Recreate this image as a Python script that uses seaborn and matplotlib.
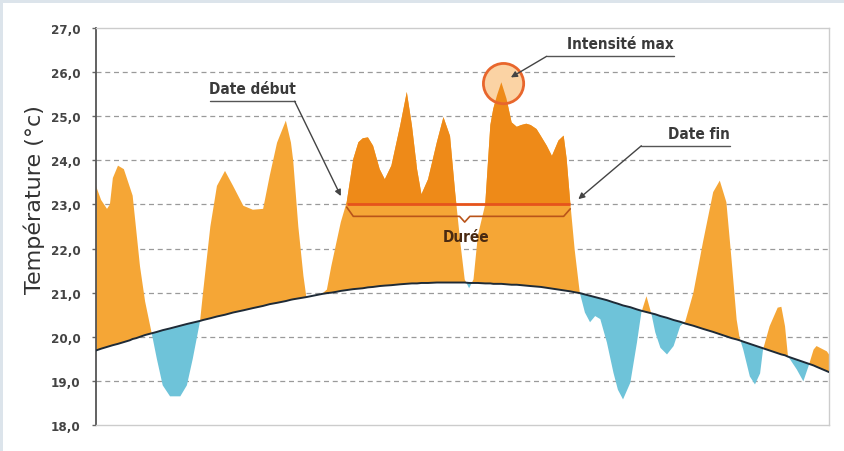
import numpy as np
import pandas as pd
import matplotlib
matplotlib.use("Agg")
import matplotlib.pyplot as plt
import seaborn as sns
from matplotlib.patches import Rectangle

# jours (0 a 100)
jours = [0.0, 0.7, 1.5, 1.9, 2.3, 3.0, 3.8, 4.6, 5.0, 5.5, 6.0, 6.7, 7.6, 8.3, 9.1,
         10.1, 11.5, 12.4, 13.2, 14.2, 14.6, 15.6, 16.5, 17.6, 18.7, 20.1, 21.4, 22.8,
         23.7, 24.7, 25.9, 26.6, 26.9, 27.6, 28.3, 28.7, 29.9, 30.8, 31.5, 32.1, 32.8,
         33.4, 34.2, 35.1, 35.8, 36.4, 37.1, 37.8, 38.7, 39.4, 40.3, 41.5, 42.4, 43.1,
         43.8, 44.4, 45.3, 46.5, 47.4, 48.3, 49.0, 49.7, 50.3, 50.9, 51.5, 52.1, 53.1,
         53.8, 54.2, 54.7, 55.3, 56.0, 56.7, 57.4, 58.0, 58.7, 59.3, 60.1, 60.7, 61.5,
         62.2, 63.1, 63.8, 64.2, 64.7, 65.3, 66.0, 66.7, 67.4, 68.1, 68.8, 69.7, 70.6,
         71.2, 71.9, 72.9, 73.8, 74.4, 75.1, 75.8, 76.3, 77.0, 77.9, 78.8, 79.7, 80.4,
         81.5, 82.8, 84.2, 85.1, 86.0, 86.7, 87.4, 87.8, 88.3, 89.2, 89.9, 90.6, 91.0,
         91.9, 93.0, 93.5, 94.0, 94.4, 95.6, 96.5, 97.2, 97.9, 98.3, 99.7, 100.0]

# temperature observee (°C)
temperature = [23.42, 23.1, 22.9, 23.0, 23.6, 23.88, 23.8, 23.4, 23.2, 22.4, 21.6, 20.8, 20.08,
               19.5, 18.9, 18.65, 18.65, 18.9, 19.5, 20.36, 21.0, 22.5, 23.42, 23.76, 23.42,
               22.97, 22.88, 22.9, 23.65, 24.4, 24.9, 24.4, 24.0, 22.5, 21.38, 20.9, 20.94,
               20.97, 21.07, 21.6, 22.14, 22.6, 23.05, 24.03, 24.41, 24.5, 24.52, 24.33, 23.8,
               23.57, 23.88, 24.79, 25.55, 24.79, 23.8, 23.23, 23.57, 24.41, 24.98, 24.55,
               23.27, 22.14, 21.3, 21.1, 21.3, 22.3, 23.0, 24.8, 25.17, 25.47, 25.77, 25.4,
               24.86, 24.76, 24.8, 24.83, 24.8, 24.71, 24.55, 24.33, 24.1, 24.45, 24.56, 24.05,
               23.05, 21.98, 21.0, 20.55, 20.33, 20.47, 20.4, 19.87, 19.18, 18.8, 18.58, 18.96,
               19.87, 20.55, 20.92, 20.5, 20.1, 19.75, 19.6, 19.79, 20.24, 20.35, 21.0, 22.14,
               23.28, 23.54, 23.05, 21.76, 20.39, 19.98, 19.71, 19.1, 18.92, 19.17, 19.71,
               20.24, 20.66, 20.68, 20.24, 19.56, 19.26, 18.99, 19.33, 19.71, 19.79, 19.67,
               19.6]

# temperature de reference (courbe noire)
normale = [19.69, 19.73, 19.77, 19.79, 19.81, 19.84, 19.88, 19.92, 19.95, 19.97, 20.0, 20.04,
           20.08, 20.11, 20.15, 20.19, 20.25, 20.29, 20.32, 20.36, 20.38, 20.42, 20.46, 20.5,
           20.55, 20.6, 20.65, 20.7, 20.74, 20.77, 20.81, 20.84, 20.85, 20.87, 20.89, 20.9,
           20.94, 20.97, 20.99, 21.0, 21.02, 21.04, 21.06, 21.08, 21.09, 21.1, 21.12, 21.13,
           21.15, 21.16, 21.17, 21.19, 21.2, 21.21, 21.21, 21.22, 21.22, 21.23, 21.23, 21.23,
           21.23, 21.23, 21.23, 21.22, 21.22, 21.22, 21.21, 21.21, 21.2, 21.2, 21.2, 21.19,
           21.18, 21.18, 21.17, 21.16, 21.15, 21.14, 21.13, 21.11, 21.09, 21.07, 21.05, 21.04,
           21.03, 21.01, 20.99, 20.96, 20.93, 20.9, 20.87, 20.83, 20.78, 20.75, 20.71, 20.67,
           20.62, 20.59, 20.56, 20.53, 20.51, 20.47, 20.43, 20.38, 20.34, 20.3, 20.25, 20.18,
           20.11, 20.06, 20.01, 19.97, 19.94, 19.92, 19.89, 19.84, 19.8, 19.76, 19.74, 19.69,
           19.63, 19.6, 19.58, 19.55, 19.48, 19.43, 19.39, 19.35, 19.32, 19.22, 19.2]

seuil = 23.0
date_debut = 34.2
date_fin = 64.7
y_ticks = [18, 19, 20, 21, 22, 23, 24, 25, 26, 27]

df = pd.DataFrame({"jour": jours, "temperature": temperature, "normale": normale})
x = df["jour"].to_numpy()
t = df["temperature"].to_numpy()
n = df["normale"].to_numpy()

sns.set_theme(style="white")
plt.rcParams["font.family"] = ["Liberation Sans Narrow", "DejaVu Sans"]
plt.rcParams["font.stretch"] = "condensed"

orange_clair = "#f5a636"
orange_fonce = "#ee8a18"
rouge = "#e6531c"
bleu = "#6ec3d9"
texte = "#3a3a3a"

fig = plt.figure(figsize=(8.44, 4.52), dpi=100, facecolor="#dce4eb")
fond = Rectangle((3 / 844, 0), 1, 1 - 4 / 452, transform=fig.transFigure,
                 facecolor="white", edgecolor="none", zorder=-10)
fig.patches.append(fond)
ax = fig.add_axes([96 / 844, 26 / 452, 733 / 844, 397 / 452])
ax.set_zorder(1)
ax.set_facecolor("white")

# grille pointillee
for v in y_ticks[1:-1]:
    ax.axhline(v, color="#9a9a9a", lw=0.9, ls=(0, (4, 3)), zorder=1)

# cercle intensite max (fond clair sous le pic)
i_max = int(np.argmax(t))
ax.scatter([x[i_max] + 0.3], [t[i_max] - 0.03], s=840, facecolor="#fbd3a4",
           edgecolor="none", zorder=2.5)

# remplissages
ax.fill_between(x, n, t, where=t >= n, interpolate=True, color=orange_clair, lw=0, zorder=2)
ax.fill_between(x, n, t, where=t < n, interpolate=True, color=bleu, lw=0, zorder=2)
periode = (x >= date_debut) & (x <= date_fin)
ax.fill_between(x, seuil, t, where=(t > seuil) & periode, interpolate=True,
                color=orange_fonce, lw=0, zorder=3)

# courbe de reference
sns.lineplot(data=df, x="jour", y="normale", color="#1e2a36", lw=1.4, ax=ax, zorder=4)

# seuil et accolade
ax.plot([date_debut, date_fin], [seuil, seuil], color=rouge, lw=2, zorder=5,
        solid_capstyle="butt")
milieu = 50.3
ax.plot([date_debut, date_debut + 0.9, milieu - 0.7, milieu, milieu + 0.7, date_fin - 0.9, date_fin],
        [seuil - 0.06, seuil - 0.27, seuil - 0.27, seuil - 0.4, seuil - 0.27, seuil - 0.27, seuil - 0.1],
        color="#b9541a", lw=1.2, zorder=5)
ax.text(milieu + 0.2, 22.28, "Durée", ha="center", va="center", fontsize=11,
        fontweight="bold", color="#4a2a12", zorder=6)

# contour du cercle
ax.scatter([x[i_max] + 0.3], [t[i_max] - 0.03], s=840, facecolor="none",
           edgecolor="#e8662c", linewidth=2, zorder=7)

# annotations
fleche = dict(arrowstyle="-|>", color="#444444", lw=1.0, mutation_scale=9,
              shrinkA=0, shrinkB=0)
souligne = dict(color="#555555", lw=1.0, zorder=8)

ax.text(21.4, 25.62, "Date début", ha="center", va="center", fontsize=11,
        fontweight="bold", color=texte, zorder=8)
ax.plot([15.6, 27.1], [25.34, 25.34], **souligne)
ax.annotate("", xy=(33.4, 23.19), xytext=(27.1, 25.34), arrowprops=fleche, zorder=8)

ax.text(71.6, 26.64, "Intensité max", ha="center", va="center", fontsize=11,
        fontweight="bold", color=texte, zorder=8)
ax.plot([61.5, 78.9], [26.36, 26.36], **souligne)
ax.annotate("", xy=(56.6, 25.88), xytext=(61.5, 26.36), arrowprops=fleche, zorder=8)

ax.text(82.3, 24.6, "Date fin", ha="center", va="center", fontsize=11,
        fontweight="bold", color=texte, zorder=8)
ax.plot([74.4, 86.5], [24.33, 24.33], **souligne)
ax.annotate("", xy=(65.8, 23.12), xytext=(74.4, 24.33), arrowprops=fleche, zorder=8)

# axes
ax.set_xlim(0, 100)
ax.set_ylim(18, 27)
ax.set_xticks([])
ax.set_yticks(y_ticks)
ax.set_yticklabels([f"{v:.1f}".replace(".", ",") for v in y_ticks],
                   fontsize=9.5, fontweight="bold", color="#444444")
ax.tick_params(axis="y", length=3, width=1, color="#666666", pad=8, left=True)
ax.set_xlabel("")
ax.set_ylabel("Température (°c)", fontsize=16, color="#333333",
              fontstretch="normal", family="DejaVu Sans")
ax.yaxis.set_label_coords(-(96 - 45) / 733, (426 - 200) / 397)
for side in ["top", "right", "bottom"]:
    ax.spines[side].set_color("#cccccc")
    ax.spines[side].set_linewidth(1.0)
ax.spines["left"].set_color("#555555")
ax.spines["left"].set_linewidth(1.3)

fig.savefig("out.png", dpi=100, facecolor=fig.get_facecolor())
